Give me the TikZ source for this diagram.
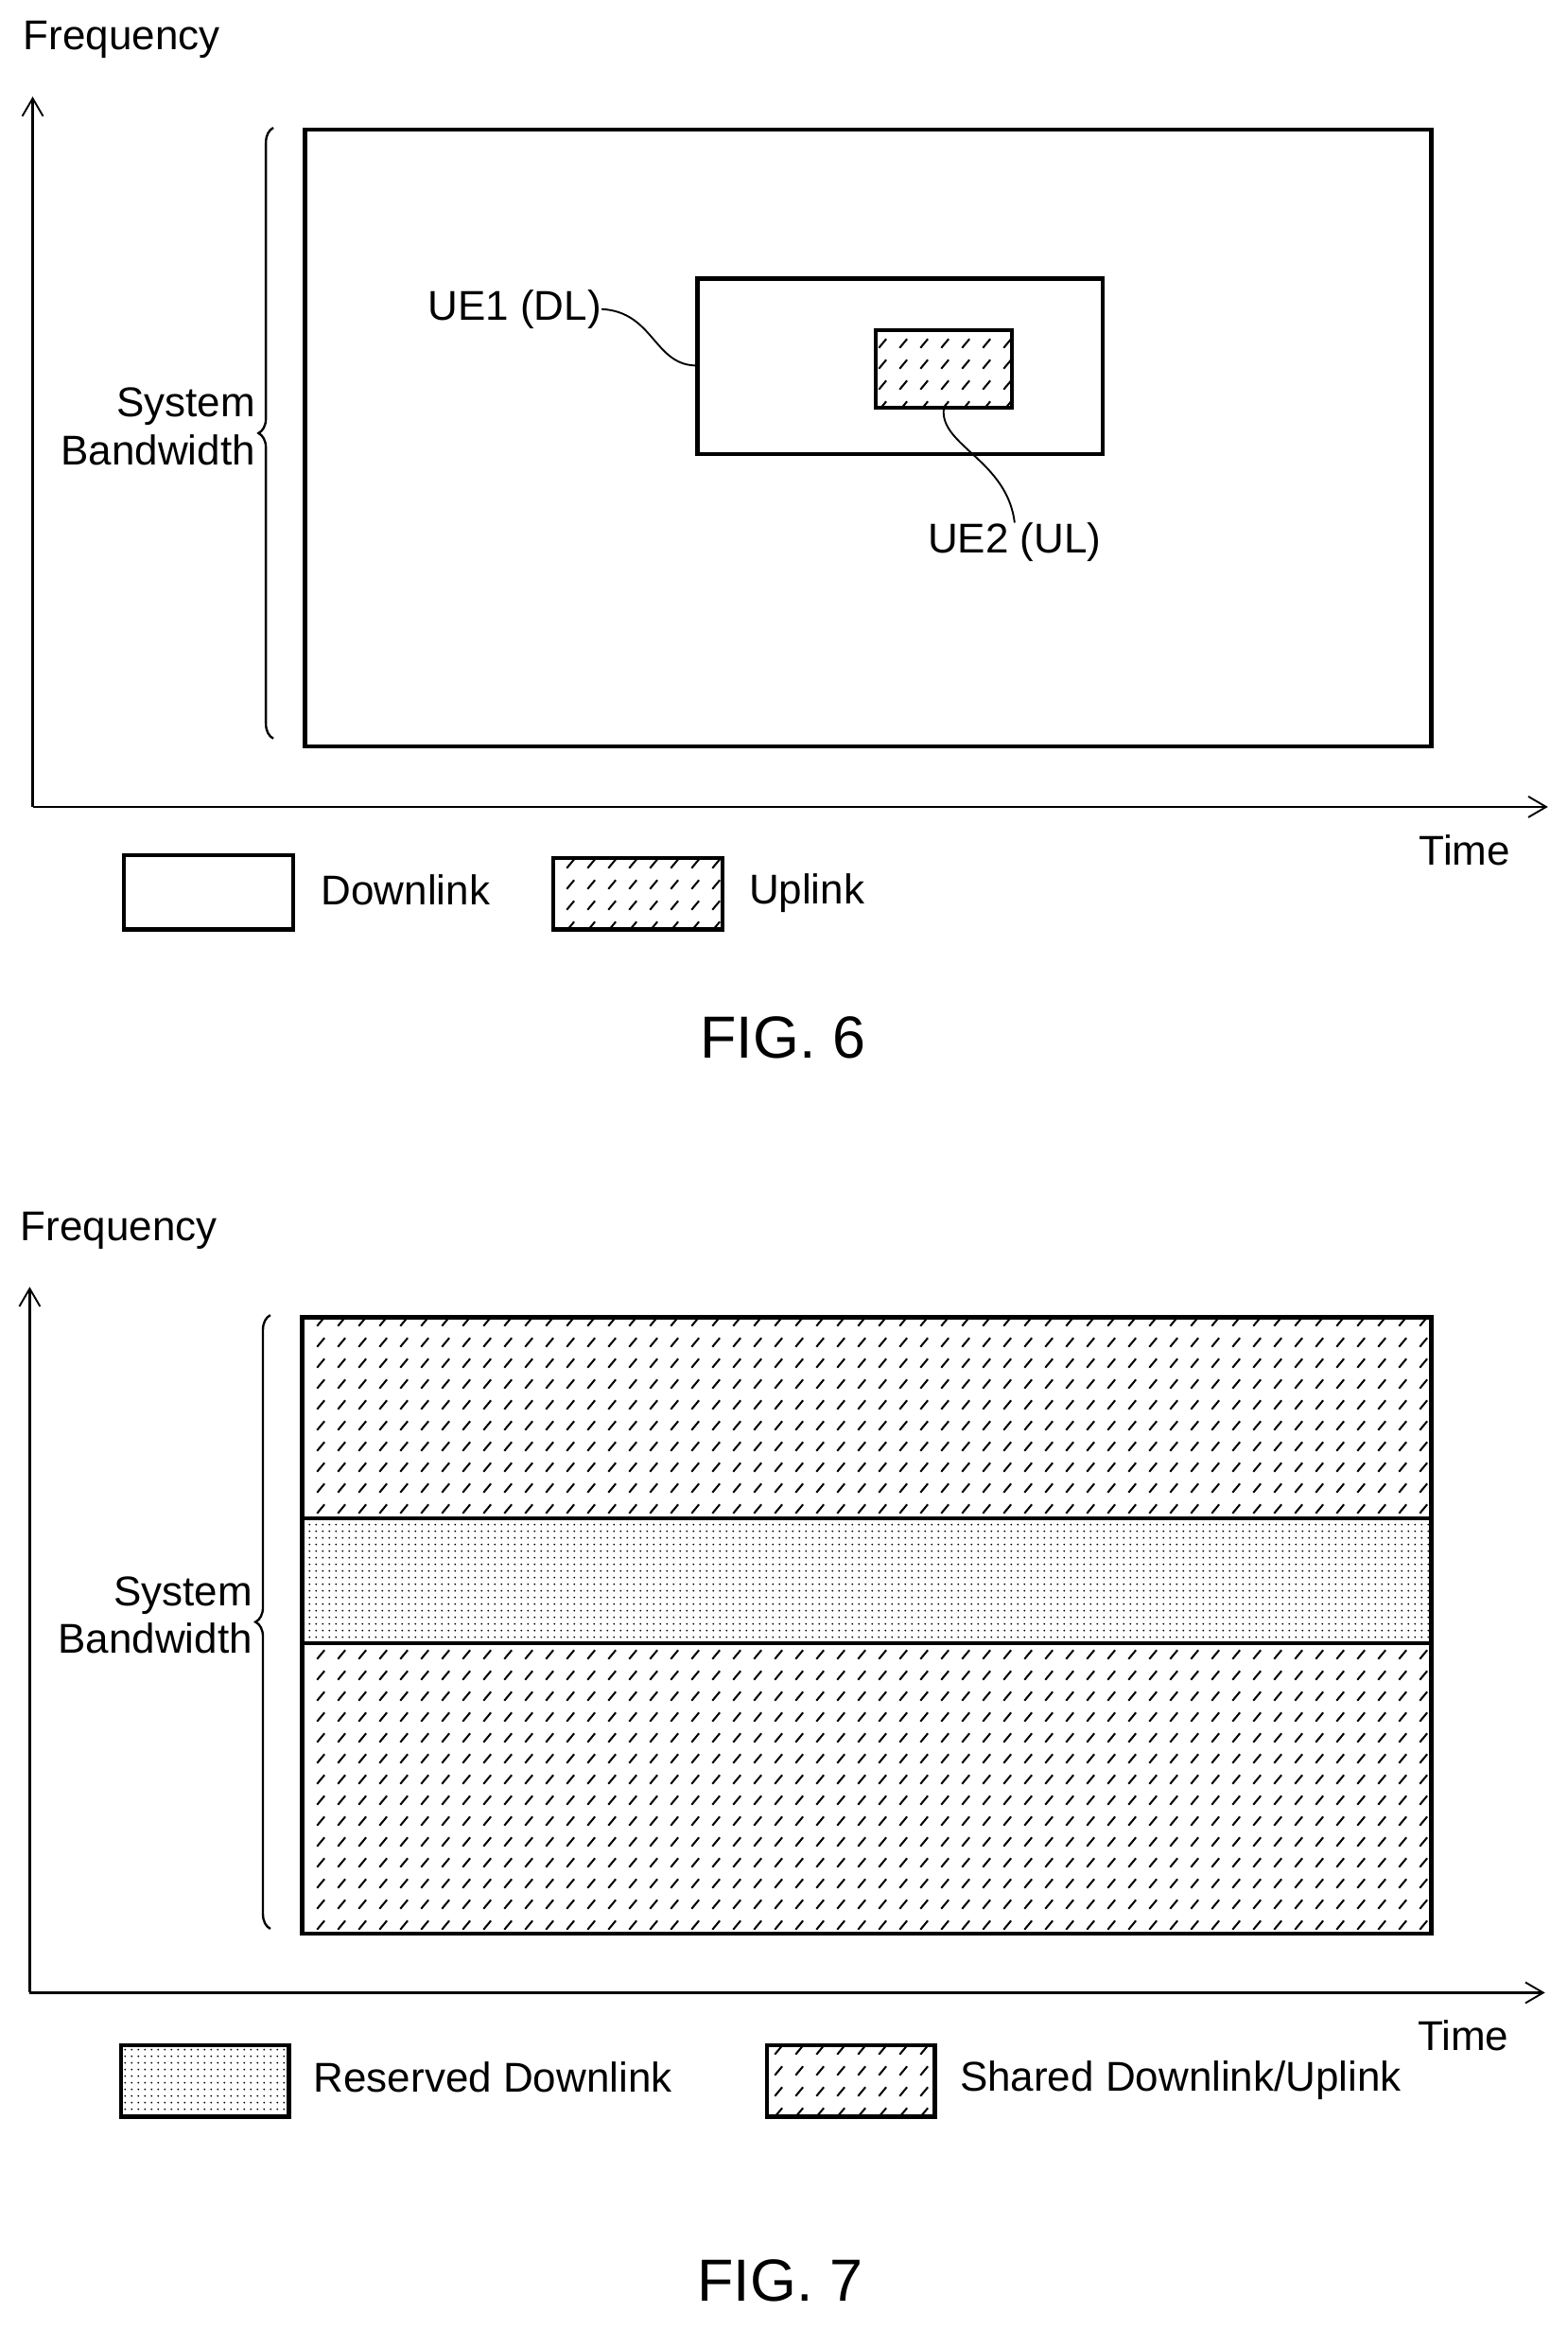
\documentclass[tikz,border=0pt]{standalone}
\usepackage{fontspec}
\setmainfont{Liberation Sans}
\usetikzlibrary{decorations.pathreplacing,arrows.meta,patterns}
\pgfdeclarepatternformonly{hatchdash}{\pgfpointorigin}{\pgfpoint{14pt}{14pt}}{\pgfpoint{14pt}{14pt}}{%
  \pgfsetlinewidth{1.3pt}\pgfpathmoveto{\pgfpoint{4pt}{4pt}}\pgfpathlineto{\pgfpoint{9pt}{10pt}}\pgfusepath{stroke}}
\pgfdeclarepatternformonly{finedots}{\pgfpointorigin}{\pgfpoint{4.6pt}{4.6pt}}{\pgfpoint{4.6pt}{4.6pt}}{%
  \pgfpathcircle{\pgfpoint{2.3pt}{2.3pt}}{0.7pt}\pgfusepath{fill}}
\begin{document}
\begin{tikzpicture}[x=1pt,y=-1pt,
  lbl/.style={font=\fontsize{28}{30}\selectfont,inner sep=0pt},
  fig/.style={font=\fontsize{40}{44}\selectfont,inner sep=0pt},
  box/.style={draw,line width=2.8pt},
  ax/.style={line width=1.5pt,-{Straight Barb[length=12pt,width=14pt,line width=1.2pt]}},
  br/.style={line width=1.5pt,decorate,decoration={brace,amplitude=10pt}},
  lead/.style={line width=1.2pt}]
\useasboundingbox (0,0) rectangle (1055,1568);
% ---------- FIG 6
\node[lbl] (f6) at (82,27) {Frequency};
\coordinate (o6) at (22,543);
\coordinate (yt6) at (22,65);
\coordinate (xt6) at (1042,543);
\draw[ax] (o6) -- (yt6);
\draw[ax] (o6) -- (xt6);
\node[lbl] (t6) at (986,572) {Time};
\node[box,minimum width=758pt,minimum height=415pt,anchor=north west] (sys6) at (204,86) {};
\draw[br] (184,497) -- (184,86) coordinate[pos=0.5] (bm6);
\node[lbl,align=right,anchor=east] (sb6) at (172,287) {System\\[2pt]Bandwidth};
\node[box,minimum width=273pt,minimum height=118pt,anchor=north west] (ue1) at (468,186) {};
\node[box,line width=2.5pt,pattern=hatchdash,minimum width=92pt,minimum height=52pt,anchor=north west] (ue2) at (588,221) {};
\node[lbl,anchor=east] (ue1l) at (405,208) {UE1 (DL)};
\node[lbl] (ue2l) at (683,365) {UE2 (UL)};
\draw[lead] (ue1l.east) .. controls (440,210) and (440,245) .. (ue1.west |- 0,246);
\draw[lead] (ue2.south) .. controls (633,300) and (678,310) .. (ue2l.north);
\node[box,minimum width=114pt,minimum height=50pt,anchor=north west] (dlk) at (82,574) {};
\node[lbl,anchor=west] (dlt) at (216,599) {Downlink};
\node[box,pattern=hatchdash,minimum width=114pt,minimum height=48pt,anchor=north west] (ulk) at (371,576) {};
\node[lbl,anchor=west] (ult) at (504,601) {Uplink};
\node[fig] (fig6) at (527,698) {FIG. 6};
% ---------- FIG 7
\node[lbl] (f7) at (80,828) {Frequency};
\coordinate (o7) at (20,1341);
\coordinate (yt7) at (20,866);
\coordinate (xt7) at (1040,1341);
\draw[ax] (o7) -- (yt7);
\draw[ax] (o7) -- (xt7);
\node[lbl] (t7) at (985,1370) {Time};
\fill[pattern=hatchdash] (202,885) rectangle (962,1022);
\fill[pattern=finedots] (202,1022) rectangle (962,1106);
\fill[pattern=hatchdash] (202,1106) rectangle (962,1300);
\node[box,minimum width=760pt,minimum height=415pt,anchor=north west] (sys7) at (202,885) {};
\draw[line width=2.5pt] (202,1022) -- (962,1022) (202,1106) -- (962,1106);
\draw[br] (182,1298) -- (182,885);
\node[lbl,align=right,anchor=east] (sb7) at (170,1087) {System\\[2pt]Bandwidth};
\node[box,pattern=finedots,minimum width=113pt,minimum height=48pt,anchor=north west] (rdk) at (80,1375) {};
\node[lbl,anchor=west] (rdt) at (211,1398) {Reserved Downlink};
\node[box,pattern=hatchdash,minimum width=113pt,minimum height=48pt,anchor=north west] (sdk) at (515,1375) {};
\node[lbl,anchor=west] (sdt) at (646,1400) {Shared Downlink/Uplink};
\node[fig] (fig7) at (525,1535) {FIG. 7};
\end{tikzpicture}
\end{document}
